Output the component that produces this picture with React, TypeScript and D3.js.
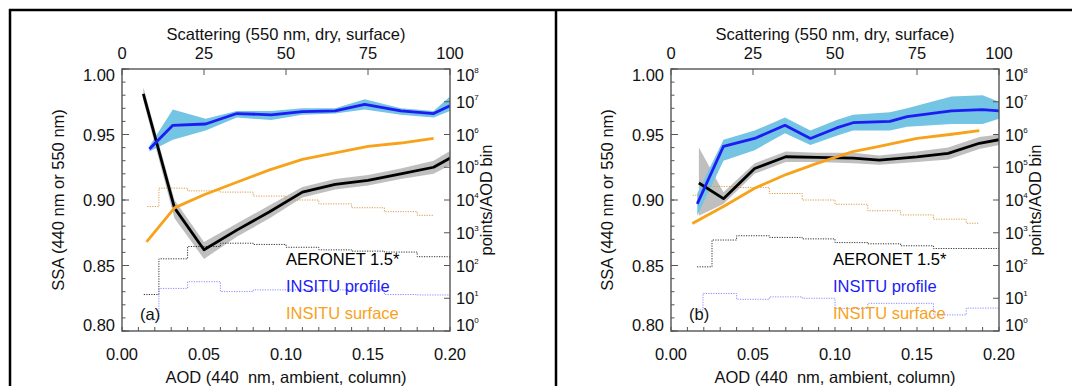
import React from "react";
import * as d3 from "d3";

// ---------- axis ticks ----------
const AOD_TICKS = [0, 0.05, 0.1, 0.15, 0.2];
const AOD_MINOR = d3.range(0, 21).map((i) => i / 100);
const SSA_TICKS = [0.8, 0.85, 0.9, 0.95, 1.0];
const SSA_MINOR = d3.range(80, 101).map((i) => i / 100);
const SCAT_TICKS = [0, 25, 50, 75, 100];
const COUNT_EXP = [0, 1, 2, 3, 4, 5, 6, 7, 8];

// ---------- panel (a) ----------
const A_AERONET_AOD = [0.013, 0.032, 0.05, 0.07, 0.09, 0.11, 0.13, 0.15, 0.17, 0.19, 0.21];
const A_AERONET_SSA = [0.981, 0.894, 0.862, 0.877, 0.891, 0.906, 0.912, 0.915, 0.92, 0.925, 0.939];
const A_AERONET_LO = [0.976, 0.886, 0.855, 0.872, 0.886, 0.902, 0.908, 0.911, 0.916, 0.92, 0.933];
const A_AERONET_HI = [0.986, 0.9, 0.868, 0.882, 0.896, 0.91, 0.916, 0.919, 0.924, 0.93, 0.945];

const A_PROFILE_AOD = [0.0167, 0.031, 0.051, 0.07, 0.091, 0.11, 0.13, 0.148, 0.17, 0.19, 0.2];
const A_PROFILE_SSA = [0.939, 0.957, 0.958, 0.966, 0.965, 0.9675, 0.968, 0.973, 0.968, 0.966, 0.972];
const A_PROFILE_LO = [0.937, 0.946, 0.953, 0.963, 0.961, 0.965, 0.966, 0.969, 0.965, 0.963, 0.968];
const A_PROFILE_HI = [0.941, 0.969, 0.962, 0.968, 0.968, 0.97, 0.97, 0.977, 0.97, 0.968, 0.979];

const A_SURFACE_AOD = [0.015, 0.032, 0.05, 0.07, 0.09, 0.11, 0.13, 0.15, 0.17, 0.19];
const A_SURFACE_SSA = [0.868, 0.894, 0.904, 0.9135, 0.923, 0.931, 0.936, 0.941, 0.9435, 0.947];

const A_SURFACE_EDGES = [0.0154, 0.0225, 0.04, 0.06, 0.08, 0.1, 0.12, 0.14, 0.16, 0.18, 0.19];
const A_SURFACE_COUNTS = [6300, 23000, 19000, 17400, 13200, 10000, 7600, 5800, 4400, 3400];
const A_AERONET_EDGES = [0.0133, 0.0225, 0.04, 0.06, 0.08, 0.1, 0.12, 0.14, 0.16, 0.18, 0.2, 0.21];
const A_AERONET_COUNTS = [13, 160, 380, 480, 440, 360, 300, 275, 257, 186, 160];
const A_PROFILE_EDGES = [0.0167, 0.0225, 0.04, 0.06, 0.08, 0.1, 0.12, 0.14, 0.16, 0.18, 0.2];
const A_PROFILE_COUNTS = [2.2, 20, 32, 16, 18, 18, 18, 18, 13, 12.6];

// ---------- panel (b) ----------
const B_AERONET_AOD = [0.017, 0.032, 0.051, 0.07, 0.089, 0.111, 0.127, 0.15, 0.169, 0.188, 0.2];
const B_AERONET_SSA = [0.913, 0.901, 0.924, 0.933, 0.9326, 0.932, 0.9305, 0.933, 0.9356, 0.9433, 0.946];
const B_AERONET_LO = [0.888, 0.897, 0.92, 0.929, 0.929, 0.928, 0.927, 0.929, 0.931, 0.939, 0.942];
const B_AERONET_HI = [0.94, 0.906, 0.928, 0.937, 0.936, 0.936, 0.934, 0.937, 0.94, 0.948, 0.95];

const B_PROFILE_AOD = [0.016, 0.032, 0.051, 0.0695, 0.085, 0.101, 0.111, 0.1335, 0.144, 0.171, 0.19, 0.2];
const B_PROFILE_SSA = [0.897, 0.941, 0.947, 0.957, 0.947, 0.955, 0.959, 0.96, 0.9636, 0.968, 0.969, 0.968];
const B_PROFILE_LO = [0.888, 0.93, 0.938, 0.951, 0.942, 0.949, 0.953, 0.953, 0.956, 0.958, 0.958, 0.962];
const B_PROFILE_HI = [0.905, 0.946, 0.953, 0.963, 0.953, 0.961, 0.965, 0.967, 0.97, 0.979, 0.98, 0.975];

const B_SURFACE_AOD = [0.013, 0.032, 0.051, 0.0705, 0.089, 0.111, 0.127, 0.15, 0.17, 0.188];
const B_SURFACE_SSA = [0.882, 0.895, 0.909, 0.9196, 0.928, 0.937, 0.941, 0.947, 0.95, 0.953];

const B_SURFACE_EDGES = [0.0132, 0.0195, 0.04, 0.06, 0.08, 0.1, 0.12, 0.14, 0.16, 0.18, 0.188];
const B_SURFACE_COUNTS = [14000, 26000, 24000, 15800, 10000, 7400, 4700, 3500, 2600, 1950];
const B_AERONET_EDGES = [0.0159, 0.025, 0.04, 0.06, 0.08, 0.1, 0.12, 0.14, 0.16, 0.2];
const B_AERONET_COUNTS = [91, 600, 810, 720, 650, 500, 460, 400, 330];
const B_PROFILE_EDGES = [0.016, 0.0195, 0.04, 0.06, 0.08, 0.1, 0.12, 0.14, 0.16, 0.18, 0.2];
const B_PROFILE_COUNTS = [4.4, 14, 9.3, 11, 10, 4.9, 7, 7, 3.1, 5];

const LEGEND_LABELS = ["AERONET 1.5*", "INSITU profile", "INSITU surface"];

// ---------- styling ----------
const W = 1072;
const H = 386;
const PT = 69;
const PH = 262;
const PW = 328;
const PANEL_LEFT = [122, 671];
const FONT = "'Liberation Sans', Arial, Helvetica, sans-serif";
const FS = 16.5;
const C_BLACK = "#000000";
const C_BLUE = "#1c1cf5";
const C_ORANGE = "#f7a21b";
const C_BAND_BLUE = "#74c4e4";
const C_BAND_GRAY = "#b8b8b8";
const C_AXIS = "#555555";

const zip = (xs: number[], ys: number[]) => xs.map((v, i) => [v, ys[i]] as [number, number]);
const band = (xs: number[], lo: number[], hi: number[]) =>
  xs.map((v, i) => [v, lo[i], hi[i]] as [number, number, number]);
const steps = (edges: number[], counts: number[]) =>
  edges.map((e, i) => [e, counts[Math.min(i, counts.length - 1)]] as [number, number]);

const PANELS = [
  {
    tag: "(a)",
    aeronet: zip(A_AERONET_AOD, A_AERONET_SSA),
    aeronetBand: band(A_AERONET_AOD, A_AERONET_LO, A_AERONET_HI),
    profile: zip(A_PROFILE_AOD, A_PROFILE_SSA),
    profileBand: band(A_PROFILE_AOD, A_PROFILE_LO, A_PROFILE_HI),
    surface: zip(A_SURFACE_AOD, A_SURFACE_SSA),
    surfaceSteps: steps(A_SURFACE_EDGES, A_SURFACE_COUNTS),
    aeronetSteps: steps(A_AERONET_EDGES, A_AERONET_COUNTS),
    profileSteps: steps(A_PROFILE_EDGES, A_PROFILE_COUNTS),
    legendDx: 164,
  },
  {
    tag: "(b)",
    aeronet: zip(B_AERONET_AOD, B_AERONET_SSA),
    aeronetBand: band(B_AERONET_AOD, B_AERONET_LO, B_AERONET_HI),
    profile: zip(B_PROFILE_AOD, B_PROFILE_SSA),
    profileBand: band(B_PROFILE_AOD, B_PROFILE_LO, B_PROFILE_HI),
    surface: zip(B_SURFACE_AOD, B_SURFACE_SSA),
    surfaceSteps: steps(B_SURFACE_EDGES, B_SURFACE_COUNTS),
    aeronetSteps: steps(B_AERONET_EDGES, B_AERONET_COUNTS),
    profileSteps: steps(B_PROFILE_EDGES, B_PROFILE_COUNTS),
    legendDx: 162,
  },
];

function Panel({ idx }: { idx: number }) {
  const p = PANELS[idx];
  const ox = PANEL_LEFT[idx];
  const x = d3.scaleLinear().domain([0, 0.2]).range([ox, ox + PW]);
  const xs = d3.scaleLinear().domain([0, 100]).range([ox, ox + PW]);
  const y = d3.scaleLinear().domain([0.8, 1.0]).range([PT + PH, PT]);
  const yc = d3.scaleLog().domain([1, 1e8]).range([PT + PH, PT]);

  const line = d3
    .line<[number, number]>()
    .x((d) => x(d[0]))
    .y((d) => y(d[1]));
  const area = d3
    .area<[number, number, number]>()
    .x((d) => x(d[0]))
    .y0((d) => y(d[1]))
    .y1((d) => y(d[2]));
  const stepLine = d3
    .line<[number, number]>()
    .x((d) => x(d[0]))
    .y((d) => yc(d[1]))
    .curve(d3.curveStepAfter);

  const clipId = `clip-${idx}`;
  const tickTxt = { fontFamily: FONT, fontSize: FS, fill: "#111" } as const;
  const endShift = (i: number, n: number) => (i === 0 ? -6 : i === n - 1 ? 6 : 0);

  return (
    <g>
      <defs>
        <clipPath id={clipId}>
          <rect x={ox} y={PT} width={PW} height={PH} />
        </clipPath>
      </defs>
      <g clipPath={`url(#${clipId})`}>
        <path d={area(p.aeronetBand) || ""} fill={C_BAND_GRAY} opacity={0.9} />
        <path d={area(p.profileBand) || ""} fill={C_BAND_BLUE} />
        <path d={stepLine(p.surfaceSteps) || ""} fill="none" stroke="#d99a4a" strokeWidth={1} strokeDasharray="1.2 1.3" />
        <path d={stepLine(p.aeronetSteps) || ""} fill="none" stroke="#333" strokeWidth={1} strokeDasharray="1.2 1.3" />
        <path d={stepLine(p.profileSteps) || ""} fill="none" stroke="#8a8aff" strokeWidth={1} strokeDasharray="1.2 1.3" />
        <path d={line(p.aeronet) || ""} fill="none" stroke={C_BLACK} strokeWidth={2.8} strokeLinejoin="round" />
        <path d={line(p.surface) || ""} fill="none" stroke={C_ORANGE} strokeWidth={2.8} strokeLinejoin="round" />
        <path d={line(p.profile) || ""} fill="none" stroke={C_BLUE} strokeWidth={2.8} strokeLinejoin="round" />
      </g>

      {/* axis box */}
      <rect x={ox} y={PT} width={PW} height={PH} fill="none" stroke={C_AXIS} strokeWidth={1.4} />

      {/* bottom ticks */}
      {AOD_MINOR.map((t, i) => (
        <line key={`bm${i}`} x1={x(t)} x2={x(t)} y1={PT + PH} y2={PT + PH - 4} stroke={C_AXIS} strokeWidth={1} />
      ))}
      {/* top ticks */}
      {SCAT_TICKS.map((t, i) => (
        <line key={`tt${i}`} x1={xs(t)} x2={xs(t)} y1={PT} y2={PT + 6} stroke={C_AXIS} strokeWidth={1} />
      ))}
      {/* left ticks */}
      {SSA_MINOR.map((t, i) => (
        <line key={`lm${i}`} x1={ox} x2={ox + 3.5} y1={y(t)} y2={y(t)} stroke={C_AXIS} strokeWidth={1} />
      ))}
      {SSA_TICKS.map((t, i) => (
        <line key={`lt${i}`} x1={ox} x2={ox + 7} y1={y(t)} y2={y(t)} stroke={C_AXIS} strokeWidth={1} />
      ))}
      {/* right ticks */}
      {COUNT_EXP.map((e, i) => (
        <line key={`rt${i}`} x1={ox + PW} x2={ox + PW - 6} y1={yc(Math.pow(10, e))} y2={yc(Math.pow(10, e))} stroke={C_AXIS} strokeWidth={1} />
      ))}

      {/* bottom tick labels */}
      {AOD_TICKS.map((t, i) => (
        <text key={`bl${i}`} x={x(t)} y={360} textAnchor="middle" {...tickTxt}>
          {d3.format(".2f")(t)}
        </text>
      ))}
      {/* top tick labels */}
      {SCAT_TICKS.map((t, i) => (
        <text key={`tl${i}`} x={xs(t)} y={59} textAnchor="middle" {...tickTxt}>
          {t}
        </text>
      ))}
      {/* left tick labels */}
      {SSA_TICKS.map((t, i) => (
        <text key={`ll${i}`} x={ox - 7} y={y(t) - endShift(SSA_TICKS.length - 1 - i, SSA_TICKS.length) + 6} textAnchor="end" {...tickTxt}>
          {d3.format(".2f")(t)}
        </text>
      ))}
      {/* right tick labels */}
      {COUNT_EXP.map((e, i) => (
        <text key={`rl${i}`} x={ox + PW + 6} y={yc(Math.pow(10, e)) + 6 - endShift(COUNT_EXP.length - 1 - i, COUNT_EXP.length)} {...tickTxt}>
          <tspan>10</tspan>
          <tspan dy={-8} fontSize={8}>{e}</tspan>
        </text>
      ))}

      {/* axis titles */}
      <text x={ox + PW / 2} y={40} textAnchor="middle" {...tickTxt}>
        Scattering (550 nm, dry, surface)
      </text>
      <text x={ox + PW / 2} y={383} textAnchor="middle" {...tickTxt} xmlSpace="preserve">
        AOD (440  nm, ambient, column)
      </text>
      <text transform={`translate(${ox - 58},${PT + PH / 2}) rotate(-90)`} textAnchor="middle" {...tickTxt}>
        SSA (440 nm or 550 nm)
      </text>
      <text transform={`translate(${ox + PW + 42},${PT + PH / 2}) rotate(-90)`} textAnchor="middle" {...tickTxt}>
        points/AOD bin
      </text>

      {/* legend */}
      {LEGEND_LABELS.map((lab, i) => (
        <text key={`lg${i}`} x={ox + p.legendDx} y={265 + i * 27} fontFamily={FONT} fontSize={FS} fill={[C_BLACK, C_BLUE, C_ORANGE][i]}>
          {lab}
        </text>
      ))}
      <text x={ox + 18} y={320} {...tickTxt}>
        {p.tag}
      </text>
    </g>
  );
}

export default function App() {
  return (
    <svg
      width={W}
      height={H}
      viewBox={`0 0 ${W} ${H}`}
      style={{ position: "absolute", left: 0, top: 0, background: "#fff" }}
    >
      <rect x={0} y={0} width={W} height={H} fill="#fff" />
      <line x1={9} x2={W} y1={10} y2={10} stroke="#000" strokeWidth={2.5} />
      <line x1={10} x2={10} y1={9} y2={H} stroke="#000" strokeWidth={2.5} />
      <line x1={556} x2={556} y1={9} y2={H} stroke="#000" strokeWidth={2.5} />
      <Panel idx={0} />
      <Panel idx={1} />
    </svg>
  );
}
